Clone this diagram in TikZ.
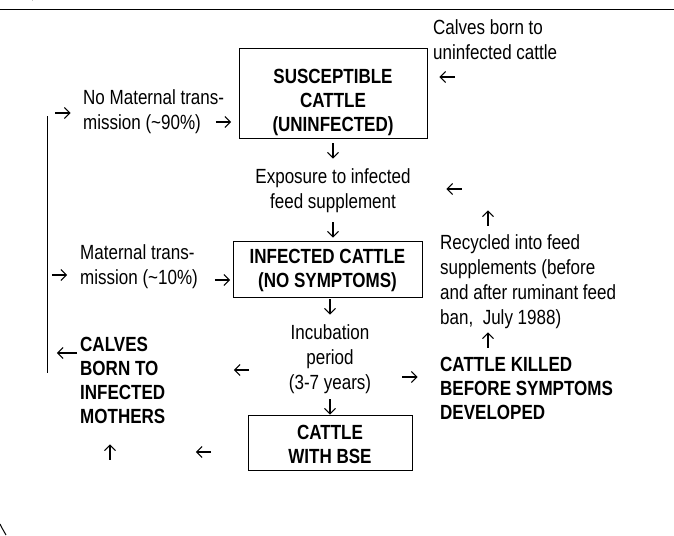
\documentclass[tikz,border=0pt]{standalone}
\usepackage{fontspec}
\usetikzlibrary{arrows.meta}
\setmainfont[FakeStretch=0.83]{Liberation Sans}
\newcommand\rarr[2]{\node[garr] (#1) at (#2) {}; \draw[arrl] (#1.west) -- (#1.east);}
\newcommand\larr[2]{\node[garr] (#1) at (#2) {}; \draw[arrl] (#1.east) -- (#1.west);}
\newcommand\darr[2]{\node[garr] (#1) at (#2) {}; \draw[arrl] (#1.north) -- (#1.south);}
\newcommand\uarr[2]{\node[garr] (#1) at (#2) {}; \draw[arrl] (#1.south) -- (#1.north);}
\begin{document}
\begin{tikzpicture}[x=1pt,y=-1pt,
  txt/.style={inner sep=0pt, font=\fontsize{20.5}{25}\selectfont},
  bld/.style={inner sep=0pt, font=\fontsize{20.5}{24}\selectfont\bfseries},
  garr/.style={inner sep=0pt, minimum size=15pt},
  arrl/.style={line width=1.1pt, -{Straight Barb[length=5.5pt,width=11pt]}},
  boxframe/.style={draw, line width=0.9pt, inner sep=0pt}]
\useasboundingbox (0,0) rectangle (674,535);
% page rule and fragments
\coordinate (ruleL) at (0,10);
\coordinate (ruleR) at (674,10);
\draw[line width=1pt] (ruleL) -- (ruleR);
\draw[line width=1.2pt] (32,0) arc[start angle=200, end angle=330, radius=3];
\draw[line width=1pt] (0,524) .. controls (2,528) .. (6,535);
% boxes
\node[boxframe, minimum width=188, minimum height=90] (b1) at (333,93) {};
\node[bld, align=center, anchor=north] (t1) at (333,69) {SUSCEPTIBLE\\CATTLE\\(UNINFECTED)};
\node[boxframe, minimum width=189, minimum height=56] (b2) at (327.5,269) {};
\node[bld, align=center] (t2) at (327.5,270) {INFECTED CATTLE\\(NO SYMPTOMS)};
\node[boxframe, minimum width=164, minimum height=55] (b3) at (330,442.5) {};
\node[bld, align=center] (t3) at (330,444) {CATTLE\\WITH BSE};
% texts
\node[txt, align=left, anchor=north west] (calvesU) at (433,19) {Calves born to\\uninfected cattle};
\node[txt, align=left, anchor=north west] (nomat) at (83,89) {No Maternal trans-\\mission (\char`\~90\%)};
\node[txt, align=center, anchor=north] (expo) at (333,168) {Exposure to infected\\feed supplement};
\node[txt, align=left, anchor=north west] (recyc) at (440,234) {Recycled into feed\\supplements (before\\and after ruminant feed\\ban,\ \ July 1988)};
\node[bld, align=left, anchor=north west] (killed) at (440,357) {CATTLE KILLED\\BEFORE SYMPTOMS\\DEVELOPED};
\node[txt, align=left, anchor=north west] (mat) at (80,244) {Maternal trans-\\mission (\char`\~10\%)};
\node[txt, align=center, anchor=north] (incub) at (330,324) {Incubation\\period\\(3-7 years)};
\node[bld, align=left, anchor=north west] (calvesI) at (80,337) {CALVES\\BORN TO\\INFECTED\\MOTHERS};
% arrow marks
\larr{a1}{447,77}
\rarr{a2}{223.5,122}
\rarr{a3}{63,113}
\darr{a4}{333,151}
\darr{a5}{333,230}
\larr{a6}{454,189}
\uarr{a7}{488,218}
\uarr{a8}{488,340}
\rarr{a9}{410,377}
\rarr{a10}{222.5,280}
\rarr{a11}{59.5,275}
\darr{a12}{330,307}
\darr{a13}{330,407}
\node[garr, minimum size=20pt] (a14) at (67,353) {};
\draw[arrl] (a14.east) -- (a14.west);
\larr{a15}{241.5,370}
\uarr{a16}{110,452}
\larr{a17}{203.5,452}
% vertical line
\coordinate (vtop) at (47,116);
\coordinate (vbot) at (47,373);
\draw[line width=1pt] (vtop) -- (vbot);
\end{tikzpicture}
\end{document}
